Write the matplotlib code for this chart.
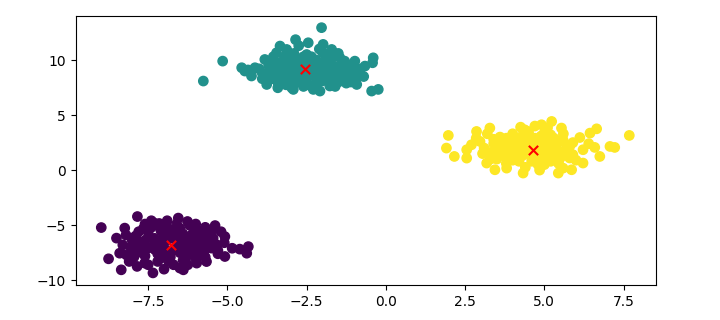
import numpy as np
import matplotlib
matplotlib.use('Agg')
import matplotlib.pyplot as plt

# Puntos, por cluster
x_purple = [-8.98, -7.84, -8.75, -8.35, -8.4, -8.19, -8.5, -8.24, -7.35, -7.61, -7.3, -6.88,
            -6.26, -6.55, -5.39, -5.87, -5.08, -5.34, -4.61, -4.34, -4.39, -5.08, -5.66, -5.97,
            -6.39, -5.5,
            -8.0, -7.9, -7.8, -7.7, -7.6, -7.5, -7.4, -7.3, -7.2, -7.1, -7.0, -6.9, -6.8, -6.7,
            -6.6, -6.5, -6.4, -6.3, -6.2, -6.1, -6.0, -5.9, -5.8, -5.7, -5.6, -5.5, -5.3, -5.2,
            -7.6, -6.9, -8.1, -7.0, -6.5, -6.0, -5.1, -4.85, -8.3, -7.2, -6.25, -7.85, -5.6,
            -7.9, -7.8, -7.7, -7.6, -7.5, -7.4, -7.3, -7.2, -7.1, -7.0, -6.9, -6.8, -6.7, -6.6,
            -6.5, -6.4, -6.3, -6.2, -6.1, -6.0, -5.9, -5.8, -5.7, -5.6, -5.4, -5.5, -7.95, -8.2,
            -7.1, -6.4, -6.0, -7.5, -6.9, -6.2, -5.3, -5.9, -7.4, -8.05,
            -7.65, -7.0, -6.35, -6.75, -7.25, -5.95, -6.55, -7.55, -6.15, -5.45, -7.85, -6.85,
            -5.75, -6.6, -7.15]
y_purple = [-5.22, -4.22, -8.06, -9.06, -7.55, -7.7, -6.18, -5.27, -9.34, -8.45, -4.82, -5.88,
            -4.67, -4.36, -5.04, -5.58, -6.04, -6.79, -7.18, -6.95, -7.55, -7.85, -8.31, -8.45,
            -9.06, -7.09,
            -6.4, -7.3, -5.6, -6.9, -7.8, -6.1, -5.2, -7.2, -8.3, -6.5, -5.6, -7.6, -6.0, -8.6,
            -7.0, -5.3, -6.3, -7.9, -7.3, -5.8, -6.7, -7.7, -6.2, -5.2, -7.0, -6.4, -7.6, -5.6,
            -4.9, -4.6, -8.3, -9.0, -8.9, -4.9, -6.6, -7.1, -6.8, -5.0, -8.6, -8.75, -5.75,
            -6.0, -6.8, -7.5, -6.4, -5.6, -7.0, -6.2, -7.6, -5.5, -7.1, -6.4, -7.9, -5.5, -6.4,
            -7.5, -5.8, -6.9, -6.3, -7.6, -5.4, -7.1, -6.6, -7.9, -6.0, -6.9, -5.6, -7.9, -5.9,
            -8.0, -8.2, -8.0, -8.6, -5.2, -5.0, -7.3, -6.1, -4.6, -7.0,
            -5.3, -6.0, -6.6, -7.3, -6.75, -5.75, -5.95, -7.15, -7.0, -6.2, -6.35, -8.3,
            -7.4, -4.9, -4.85]

x_teal = [-5.76, -5.15, -4.55, -4.45, -4.24, -4.13, -3.82, -3.45, -3.34, -3.13, -2.85, -3.76,
          -3.41, -2.97, -2.03, -2.45, -1.98, -1.71, -1.45, -0.98, -0.66, -0.4, -0.42, -1.19,
          -1.08, -0.92, -0.45, -0.24, -1.77, -2.29, -2.08, -2.61, -2.92,
          -3.9, -3.7, -3.6, -3.5, -3.3, -3.3, -3.2, -3.1, -3.0, -2.9, -2.8, -2.8, -2.7, -2.6,
          -2.5, -2.5, -2.4, -2.3, -2.2, -2.2, -2.1, -2.0, -1.9, -1.9, -1.8, -1.7, -1.6, -1.5,
          -1.4, -1.3, -1.2, -3.4, -4.0, -3.8, -2.6, -2.0, -1.6, -2.95, -2.35, -1.0, -0.8,
          -3.55, -2.1, -1.5, -0.7, -3.15, -4.35, -2.75, -1.25,
          -3.7, -3.5, -3.4, -3.2, -3.1, -3.0, -2.9, -2.7, -2.7, -2.5, -2.4, -2.3, -2.2, -2.1,
          -2.0, -1.9, -1.8, -1.7, -1.6, -1.4, -1.3, -1.2, -1.1, -3.6, -3.0, -2.6, -2.4, -1.8,
          -3.3, -2.8, -2.4, -1.5, -0.9, -1.0, -3.9, -2.9, -2.15, -1.75, -2.55, -3.45]
y_teal = [8.09, 9.9, 9.3, 9.0, 8.55, 9.3, 10.05, 10.66, 11.27, 10.96, 11.85, 7.78,
          7.48, 7.48, 12.94, 11.57, 11.42, 10.96, 10.2, 9.9, 9.45, 10.2, 9.75, 9.0,
          8.24, 7.78, 7.18, 7.33, 7.64, 7.33, 7.18, 7.78, 7.33,
          8.8, 9.5, 8.3, 9.0, 9.8, 8.6, 10.3, 9.3, 8.1, 10.6, 9.6, 8.7, 10.1, 9.0,
          8.3, 10.5, 9.5, 8.8, 10.0, 7.9, 9.2, 10.7, 8.5, 9.7, 9.0, 10.2, 8.1, 9.4,
          8.7, 9.9, 8.4, 7.9, 9.2, 8.5, 7.6, 8.1, 7.6, 8.95, 10.3, 8.7, 9.2,
          10.3, 11.0, 10.6, 8.5, 7.75, 9.1, 11.3, 7.9,
          8.9, 8.5, 9.4, 9.0, 8.4, 9.9, 9.2, 8.4, 9.5, 9.8, 8.6, 9.2, 8.4, 9.7,
          9.0, 10.2, 8.2, 9.5, 8.8, 9.1, 8.5, 9.5, 8.0, 9.8, 10.4, 10.3, 10.0, 10.5,
          8.0, 8.0, 7.7, 8.0, 8.5, 9.4, 8.3, 8.5, 8.7, 9.95, 9.35, 9.55]

x_yellow = [1.97, 1.91, 2.16, 2.55, 2.55, 2.86, 3.28, 2.97, 3.18, 3.44, 3.81, 4.33, 3.65,
            4.07, 4.38, 4.17, 5.23, 4.91, 5.54, 6.65, 6.44, 6.12, 7.68, 6.59, 7.07, 7.22,
            6.75, 6.22, 5.86, 5.59, 5.44, 5.8, 6.22, 5.59,
            3.3, 3.4, 3.5, 3.6, 3.7, 3.8, 3.9, 4.0, 4.0, 4.1, 4.2, 4.3, 4.4, 4.5, 4.5, 4.6,
            4.7, 4.8, 4.8, 4.9, 5.0, 5.0, 5.1, 5.2, 5.3, 5.3, 5.4, 5.5, 5.6, 5.7, 5.9, 5.9,
            6.0, 3.1, 2.85, 3.2, 4.25, 4.7, 4.85, 4.4, 6.4, 5.1, 3.9, 2.7, 3.05,
            3.6, 3.7, 3.8, 3.9, 4.0, 4.1, 4.2, 4.3, 4.3, 4.4, 4.5, 4.6, 4.6, 4.7, 4.8, 4.9,
            5.0, 5.1, 5.1, 5.2, 5.3, 5.4, 5.5, 5.6, 5.7, 5.8, 3.5, 3.4, 4.0, 4.4, 4.9, 5.2,
            4.2, 3.8, 5.45, 4.55, 3.3, 5.0]
y_yellow = [3.15, 2.0, 1.24, 1.85, 1.09, 3.51, 3.82, 2.6, 0.64, 0.03, 0.18, -0.27, 2.15,
            2.75, 3.66, 1.09, 4.42, 4.12, 3.82, 3.75, 3.36, 2.96, 3.15, 2.06, 2.15, 2.06,
            1.24, 0.64, 0.03, 0.18, -0.27, 2.15, 1.85, 2.75,
            1.6, 2.4, 1.0, 3.0, 1.8, 0.6, 2.5, 1.4, 3.3, 2.0, 0.8, 2.8, 1.6, 3.5, 2.3, 1.1,
            2.9, 0.5, 1.9, 2.6, 1.3, 3.4, 2.1, 0.8, 2.9, 1.6, 2.4, 1.1, 3.3, 1.9, 2.5, 1.4,
            0.9, 2.0, 2.9, 3.3, 3.9, 4.0, 0.0, 0.25, 2.4, 3.85, 1.1, 2.3, 1.5,
            1.4, 2.4, 1.2, 2.0, 2.7, 1.6, 2.3, 1.3, 3.1, 2.0, 1.5, 2.6, 0.8, 1.5, 2.3, 1.1,
            1.9, 2.6, 1.5, 2.2, 1.2, 1.9, 2.7, 1.5, 2.3, 1.1, 2.0, 2.8, 0.9, 2.7, 3.1, 3.2,
            1.8, 2.9, 0.6, 3.05, 1.0, 0.5]

# Centroides (marcados con x roja)
centers_x = [-6.77, -2.56, 4.65]
centers_y = [-6.79, 9.15, 1.85]

# Juntar todo con sus etiquetas
X = np.concatenate([x_purple, x_teal, x_yellow])
Y = np.concatenate([y_purple, y_teal, y_yellow])
labels = np.concatenate([np.zeros(len(x_purple)), np.ones(len(x_teal)), 2 * np.ones(len(x_yellow))])

fig = plt.figure(figsize=(7.2, 3.2), dpi=100)
plt.subplots_adjust(left=0.105, right=0.911, bottom=0.109, top=0.95)
plt.scatter(X, Y, c=labels, cmap='viridis', s=45)
plt.scatter(centers_x, centers_y, c='red', marker='x', s=45)
plt.xlim(-9.79, 8.52)
plt.ylim(-10.45, 14.0)
plt.savefig('out.png')
